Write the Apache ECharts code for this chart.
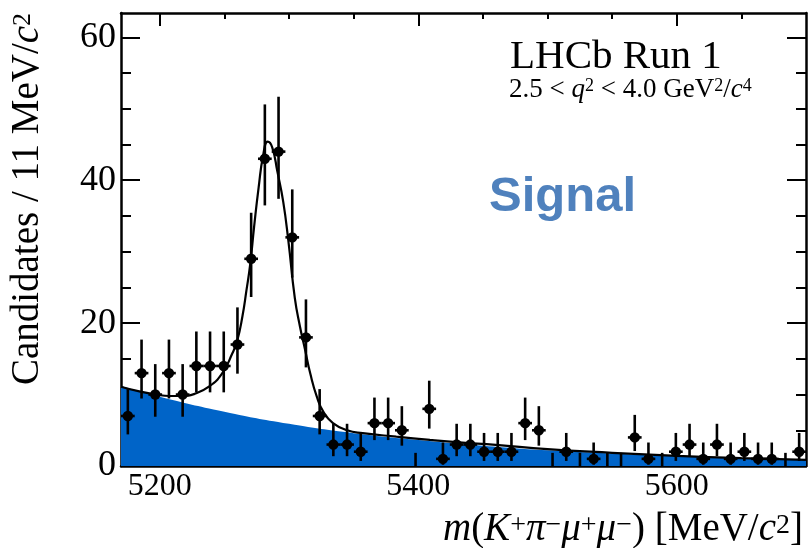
<!DOCTYPE html>
<html><head><meta charset="utf-8">
<script src="https://cdn.jsdelivr.net/npm/echarts@6/dist/echarts.min.js"></script>
<style>html,body{margin:0;padding:0;background:#fff}#c{width:809px;height:548px}</style>
</head><body><div id="c"></div>
<script>
// Histogram binning (50 bins from 5170 to 5700 MeV/c^2)
const binStart = 5170;
const binWidth = 10.6;
// Candidates per bin
const counts = [7,13,10,13,10,14,14,14,17,29,
                43,44,32,18,7,3,3,2,6,6,
                5,0,8,1,3,3,2,2,2,6,
                5,0,2,0,1,0,0,4,1,0,
                2,3,1,3,1,2,1,1,0,2];
// Background component (blue) read at these masses
const bkgMass = [5170,5200,5250,5300,5350,5400,5450,5500,5550,5600,5650,5700];
const bkgVal  = [11.2,9.7,7.6,5.9,4.6,3.65,2.85,2.2,1.75,1.37,1.07,0.85];
// Total fit (black curve) read at these masses
const totMass = [5170,5185,5197,5208,5217,5227,5238,5248,5256,5260,5264,5267,5270,5273,5276.5,5280,5283.5,5287,5291,5295.5,5299.5,5304.5,5308.5,5312.5,5316.5,5321.5,5326.5,5334,5345,5357,5383,5409,5432,5460,5500,5550,5600,5650,5700];
const totVal  = [11.1,10.4,10.0,9.8,9.8,10.1,11.1,12.9,15.7,17.6,21.0,24.5,28.3,33.5,39.0,43.5,45.4,44.6,41.2,37.0,31.5,23.5,19.5,16.2,12.9,9.7,7.6,6.0,5.0,4.6,4.1,3.65,3.3,2.95,2.35,1.85,1.42,1.1,0.87];
// Tick values
const xMajorTicks = [5200,5400,5600];
const xMinorTicks = [5250,5300,5350,5450,5500,5550,5650];
const yMajorTicks = [0,20,40,60];
const yMinorTicks = [5,10,15,25,30,35,45,50,55];

const SERIF = '"Liberation Serif","Times New Roman",serif';
const BLUE = '#0064c8';

function poissonErr(n){
  if(n===0) return [0,1.84];
  const up=(n+1)*Math.pow(1-1/(9*(n+1))+1/(3*Math.sqrt(n+1)),3);
  const lo=n*Math.pow(1-1/(9*n)-1/(3*Math.sqrt(n)),3);
  return [lo,up];
}
const points = counts.map((n,i)=>{
  const e=poissonErr(n);
  return [binStart+binWidth*(i+0.5), n, e[0], e[1]];
});

const plain = v => String(v);
function xAx(grid, pos, ticks, len, labels){
  return {gridIndex:grid, type:'value', position:pos, min:5170, max:5700,
    axisLine:{show:grid===0, onZero:false, lineStyle:{color:'#000', width:2.5}},
    axisTick:{show:true, inside:true, length:len, customValues:ticks, lineStyle:{color:'#000', width:2}},
    axisLabel:{show:labels, customValues:ticks, formatter:plain, fontSize:32, fontFamily:SERIF, color:'#000', margin:5},
    splitLine:{show:false}};
}
function yAx(grid, pos, ticks, len, labels){
  return {gridIndex:grid, type:'value', position:pos, min:0, max:63.4,
    axisLine:{show:grid===0, onZero:false, lineStyle:{color:'#000', width:2.5}},
    axisTick:{show:true, inside:true, length:len, customValues:ticks, lineStyle:{color:'#000', width:2}},
    axisLabel:{show:labels, customValues:ticks, formatter:plain, fontSize:36, fontFamily:SERIF, color:'#000', margin:5},
    splitLine:{show:false}};
}

const chart = echarts.init(document.getElementById('c'), null, {renderer:'canvas'});
const gridRect = {left:121, right:3, top:13, bottom:82, containLabel:false};
chart.setOption({
  animation:false,
  backgroundColor:'#fff',
  grid:[Object.assign({},gridRect), Object.assign({},gridRect)],
  xAxis:[xAx(0,'bottom',xMajorTicks,13,true), xAx(0,'top',xMajorTicks,13,false),
         xAx(1,'bottom',xMinorTicks,6,false), xAx(1,'top',xMinorTicks,6,false)],
  yAxis:[yAx(0,'left',yMajorTicks,19,true), yAx(0,'right',yMajorTicks,19,false),
         yAx(1,'left',yMinorTicks,10,false), yAx(1,'right',yMinorTicks,10,false)],
  series:[
    {type:'line', xAxisIndex:0, yAxisIndex:0, data:bkgMass.map((m,i)=>[m,bkgVal[i]]),
     smooth:true, showSymbol:false, lineStyle:{width:0},
     areaStyle:{color:BLUE, opacity:1}, z:1, silent:true},
    {type:'line', xAxisIndex:0, yAxisIndex:0, data:totMass.map((m,i)=>[m,totVal[i]]),
     smooth:true, showSymbol:false, lineStyle:{width:2.2, color:'#000'}, z:2, silent:true},
    {type:'custom', xAxisIndex:0, yAxisIndex:0, data:points, z:3, clip:true,
     renderItem:function(params, api){
       const x=api.value(0), y=api.value(1), lo=api.value(2), hi=api.value(3);
       const c=api.coord([x,y]), pl=api.coord([x,lo]), ph=api.coord([x,hi]);
       const children=[{type:'line', shape:{x1:c[0],y1:pl[1],x2:c[0],y2:ph[1]}, style:{stroke:'#000', lineWidth:2.6}}];
       if(y>0){
         const a=api.coord([x-binWidth/2,y]), b=api.coord([x+binWidth/2,y]);
         children.push({type:'line', shape:{x1:a[0],y1:c[1],x2:b[0],y2:c[1]}, style:{stroke:'#000', lineWidth:2.6}});
         children.push({type:'circle', shape:{cx:c[0],cy:c[1],r:5.2}, style:{fill:'#000'}});
       }
       return {type:'group', children:children};
     }}
  ],
  graphic:[
    {type:'text', x:510, y:57, style:{text:'LHCb Run 1', font:'41px '+SERIF, fill:'#000', verticalAlign:'middle'}},
    {type:'text', x:509, y:90, style:{
      text:'{n|2.5 < }{i|q}{s|2}{n| < 4.0 GeV}{s|2}{n|/}{i|c}{s|4}',
      verticalAlign:'middle',
      rich:{n:{fontFamily:SERIF, fontSize:27, lineHeight:26, fill:'#000'},
            i:{fontFamily:SERIF, fontSize:27, lineHeight:26, fontStyle:'italic', fill:'#000'},
            s:{fontFamily:SERIF, fontSize:18, lineHeight:17, verticalAlign:'top', fill:'#000'}}}},
    {type:'text', x:489, y:197, style:{text:'Signal', font:'bold 49px "Liberation Sans",Arial,sans-serif', fill:'#4F81BD', verticalAlign:'middle'}},
    {type:'text', x:803, y:530, style:{
      text:'{i|m}{n|(}{i|K}{s|+}{i|π}{s|−}{i|μ}{s|+}{i|μ}{s|−}{n|) [MeV/}{i|c}{s|2}{n|]}',
      align:'right', verticalAlign:'middle',
      rich:{n:{fontFamily:SERIF, fontSize:39, lineHeight:36, fill:'#000'},
            i:{fontFamily:SERIF, fontSize:39, lineHeight:36, fontStyle:'italic', fill:'#000'},
            s:{fontFamily:SERIF, fontSize:28, lineHeight:25, verticalAlign:'top', fill:'#000'}}}},
    {type:'text', x:28, y:199, rotation:Math.PI/2, style:{
      text:'{n|Candidates / 11 MeV/}{i|c}{s|2}',
      align:'center', verticalAlign:'middle',
      rich:{n:{fontFamily:SERIF, fontSize:39, lineHeight:36, fill:'#000'},
            i:{fontFamily:SERIF, fontSize:39, lineHeight:36, fontStyle:'italic', fill:'#000'},
            s:{fontFamily:SERIF, fontSize:26, lineHeight:23, verticalAlign:'top', fill:'#000'}}}}
  ]
});
</script>
</body></html>
